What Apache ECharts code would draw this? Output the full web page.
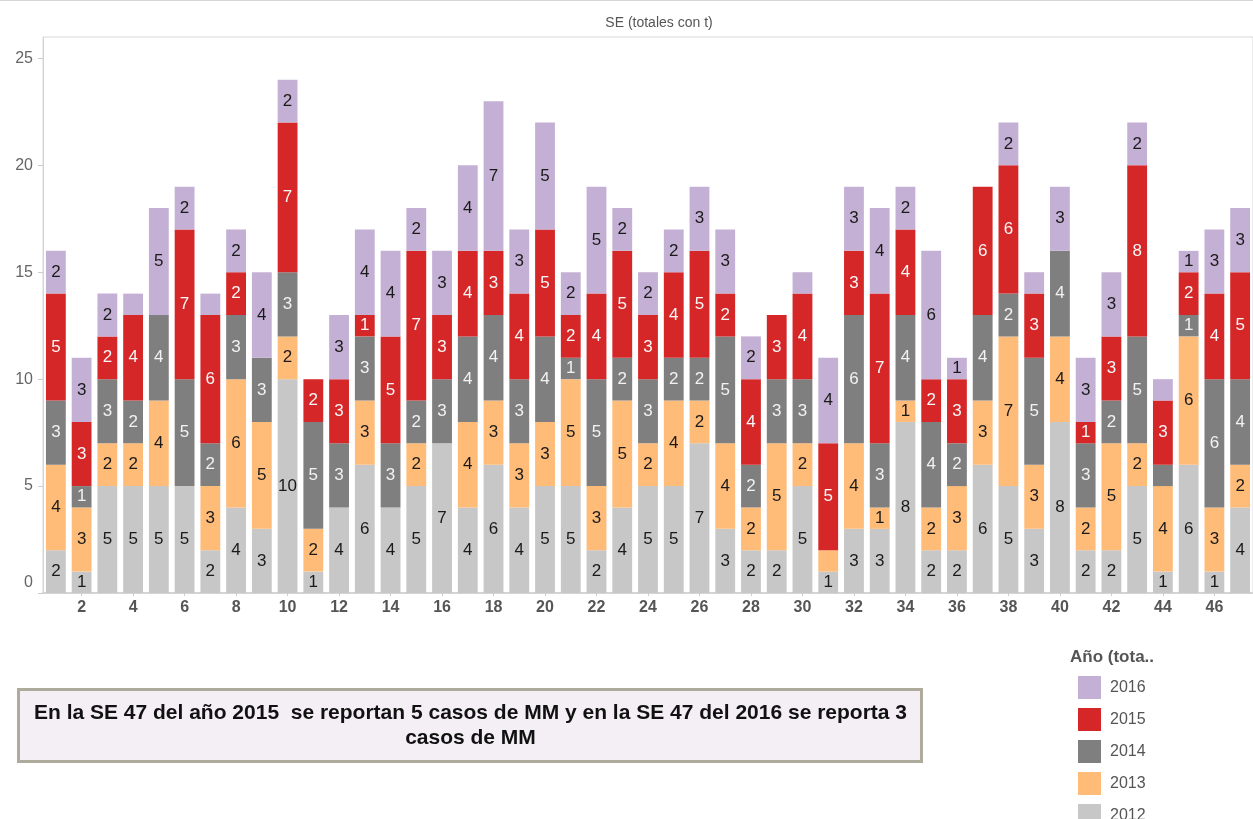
<!DOCTYPE html>
<html>
<head>
<meta charset="utf-8">
<script src="https://cdn.jsdelivr.net/npm/echarts@6/dist/echarts.min.js"></script>
<style>
  html, body { margin: 0; padding: 0; background: #fff; }
  #chart { width: 1253px; height: 819px; }
</style>
</head>
<body>
<div id="chart"></div>
<script>
const weeks = ['1','2','3','4','5','6','7','8','9','10','11','12','13','14','15','16','17','18','19','20','21','22','23','24','25','26','27','28','29','30','31','32','33','34','35','36','37','38','39','40','41','42','43','44','45','46','47']

const s2012 = [2,1,5,5,5,5,2,4,3,10,1,4,6,4,5,7,4,6,4,5,5,2,4,5,5,7,3,2,2,5,1,3,3,8,2,2,6,5,3,8,2,2,5,1,6,1,4]
const s2013 = [4,3,2,2,4,0,3,6,5,2,2,0,3,0,2,0,4,3,3,3,5,3,5,2,4,2,4,2,5,2,1,4,1,1,2,3,3,7,3,4,2,5,2,4,6,3,2]
const s2014 = [3,1,3,2,4,5,2,3,3,3,5,3,3,3,2,3,4,4,3,4,1,5,2,3,2,2,5,2,3,3,0,6,3,4,4,2,4,2,5,4,3,2,5,1,1,6,4]
const s2015 = [5,3,2,4,0,7,6,2,0,7,2,3,1,5,7,3,4,3,4,5,2,4,5,3,4,5,2,4,3,4,5,3,7,4,2,3,6,6,3,0,1,3,8,3,2,4,5]
const s2016 = [2,3,2,1,5,2,1,2,4,2,0,3,4,4,2,3,4,7,3,5,2,5,2,2,2,3,3,2,0,1,4,3,4,2,6,1,0,2,1,3,3,3,2,1,1,3,3]

// labels Tableau left out (too small)
const hiddenLabels = ['4-2016', '7-2016', '30-2016', '31-2013', '39-2016', '44-2014', '44-2016']

const years = [
  { name: '2012', values: s2012, color: '#c7c7c7', text: '#1a1a1a' },
  { name: '2013', values: s2013, color: '#ffbb78', text: '#1a1a1a' },
  { name: '2014', values: s2014, color: '#7f7f7f', text: '#f2f2f2' },
  { name: '2015', values: s2015, color: '#d62728', text: '#f7f7f7' },
  { name: '2016', values: s2016, color: '#c5b0d5', text: '#1a1a1a' }
]

const FONT = "'Liberation Sans', Arial, sans-serif"

function buildSeries() {
  return years.map(y => ({
    name: y.name,
    type: 'bar',
    stack: 'total',
    barCategoryGap: '23%',
    itemStyle: { color: y.color },
    label: {
      show: true,
      position: 'inside',
      color: y.text,
      fontFamily: FONT,
      fontSize: 17
    },
    data: y.values.map((v, i) => {
      const hide = v === 0 || hiddenLabels.includes(weeks[i] + '-' + y.name)
      return hide ? { value: v, label: { show: false } } : v
    })
  }))
}

const chart = echarts.init(document.getElementById('chart'))

chart.setOption({
  animation: false,
  title: {
    text: 'SE (totales con t)',
    left: 654,
    textAlign: 'center',
    top: 11,
    textStyle: { fontFamily: FONT, fontSize: 14, fontWeight: 'normal', color: '#555' }
  },
  grid: { left: 43, top: 37, width: 1222, height: 556, show: true, borderColor: '#d9d9d9', borderWidth: 1 },
  legend: {
    orient: 'vertical',
    left: 1073,
    top: 671,
    height: 200,
    icon: 'rect',
    itemWidth: 23,
    itemHeight: 23,
    itemGap: 9,
    selectedMode: false,
    data: ['2016', '2015', '2014', '2013', '2012'],
    textStyle: { fontFamily: FONT, fontSize: 16, color: '#555', padding: [0, 0, 0, 4] }
  },
  xAxis: {
    type: 'category',
    data: weeks,
    axisLine: { lineStyle: { color: '#d4d4d4', width: 2 } },
    axisTick: { show: true, alignWithLabel: true, length: 3, interval: i => i % 2 === 1, lineStyle: { color: '#ccc' } },
    axisLabel: {
      interval: i => i % 2 === 1,
      fontFamily: FONT,
      fontSize: 16,
      fontWeight: 'bold',
      color: '#555',
      margin: 7
    }
  },
  yAxis: {
    type: 'value',
    min: 0,
    max: 26,
    interval: 5,
    splitLine: { show: false },
    axisLine: { show: true, lineStyle: { color: '#d4d4d4' } },
    axisTick: { show: true, length: 5, lineStyle: { color: '#ccc' } },
    axisLabel: {
      showMaxLabel: false,
      fontFamily: FONT,
      fontSize: 16,
      color: '#666',
      margin: 10,
      formatter: v => (v === 0 ? '{z|0}' : String(v)),
      rich: { z: { fontFamily: FONT, fontSize: 16, color: '#666', padding: [0, 0, 20, 0] } }
    }
  },
  graphic: [
    {
      type: 'rect',
      shape: { x: 0, y: 0, width: 1253, height: 1 },
      style: { fill: '#d6d6d6' }
    },
    {
      type: 'text',
      left: 1070,
      top: 649,
      style: { text: 'Año (tota..', fontFamily: FONT, fontSize: 17, fontWeight: 'bold', fill: '#555' }
    },
    {
      type: 'group',
      left: 17,
      top: 688,
      children: [
        {
          type: 'rect',
          shape: { x: 0, y: 0, width: 903, height: 72 },
          style: { fill: '#f3eff5', stroke: '#aeaa9c', lineWidth: 3 }
        },
        {
          type: 'text',
          x: 452,
          y: 36,
          style: {
            text: 'En la SE 47 del año 2015  se reportan 5 casos de MM y en la SE 47 del 2016 se reporta 3\ncasos de MM',
            align: 'center',
            verticalAlign: 'middle',
            lineHeight: 25,
            fontFamily: FONT,
            fontSize: 21,
            fontWeight: 'bold',
            fill: '#111'
          }
        }
      ]
    }
  ],
  series: buildSeries()
})

window.addEventListener('resize', () => chart.resize())
</script>
</body>
</html>
